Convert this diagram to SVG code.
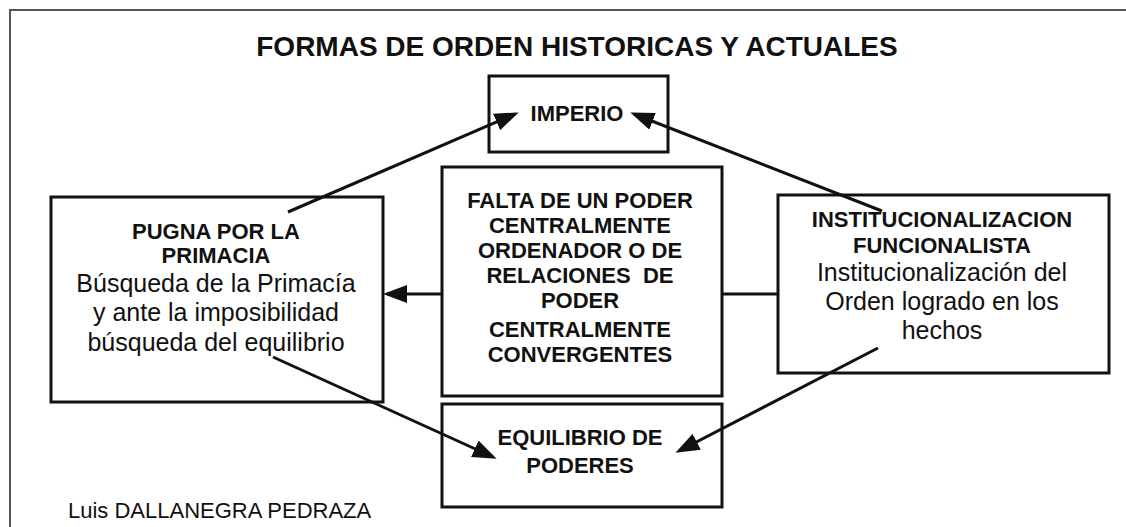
<svg xmlns="http://www.w3.org/2000/svg" width="1126" height="527" viewBox="0 0 1126 527">
<style>
.box{fill:#fff;stroke:#111;stroke-width:3}
.b{font-family:"Liberation Sans",Arial,sans-serif;font-weight:bold;font-size:22px;fill:#111;text-anchor:middle}
.r{font-family:"Liberation Sans",Arial,sans-serif;font-size:25px;fill:#111;text-anchor:middle}
.con{stroke:#111;stroke-width:3;fill:none}
.arr{marker-end:url(#ah)}
.sh{stroke:#9a9a9a;stroke-width:6;fill:none;filter:url(#blur);opacity:0.7}
</style>
<defs>
<marker id="ah" markerUnits="userSpaceOnUse" markerWidth="24" markerHeight="18" viewBox="0 0 24 18" refX="20" refY="9" orient="auto">
<path d="M0,0 L24,9 L0,18 Z" fill="#111"/>
</marker>
<filter id="blur" x="-20%" y="-200%" width="140%" height="500%"><feGaussianBlur stdDeviation="2.5"/></filter>
</defs>
<rect width="1126" height="527" fill="#fff"/>
<path d="M10,527 V10 H1130" fill="none" stroke="#555" stroke-width="2"/>
<text x="577" y="56" font-family="Liberation Sans, Arial, sans-serif" font-weight="bold" font-size="28" text-anchor="middle" fill="#111">FORMAS DE ORDEN HISTORICAS Y ACTUALES</text>
<g id="shadows">
<line class="sh" x1="392" y1="302" x2="444" y2="302"/>
<line class="sh" x1="722" y1="302" x2="782" y2="302"/>
</g>
<g id="imperio">
<rect class="box" x="489" y="76" width="179" height="76"/>
<text class="b" x="577" y="121">IMPERIO</text>
</g>
<g id="falta">
<rect class="box" x="442" y="167" width="280" height="229"/>
<text class="b" x="580" y="208">FALTA DE UN PODER</text>
<text class="b" x="580" y="233">CENTRALMENTE</text>
<text class="b" x="580" y="258">ORDENADOR O DE</text>
<text class="b" x="580" y="283" style="white-space:pre">RELACIONES  DE</text>
<text class="b" x="580" y="308">PODER</text>
<text class="b" x="580" y="337">CENTRALMENTE</text>
<text class="b" x="580" y="362">CONVERGENTES</text>
</g>
<g id="pugna">
<rect class="box" x="51" y="197" width="332" height="205"/>
<text class="b" x="216" y="239">PUGNA POR LA</text>
<text class="b" x="216" y="263">PRIMACIA</text>
<text class="r" x="216" y="292">Búsqueda de la Primacía</text>
<text class="r" x="216" y="321">y ante la imposibilidad</text>
<text class="r" x="216" y="351">búsqueda del equilibrio</text>
</g>
<g id="institucionalizacion">
<rect class="box" x="778" y="195" width="331" height="178"/>
<text class="b" x="942" y="227">INSTITUCIONALIZACION</text>
<text class="b" x="942" y="253">FUNCIONALISTA</text>
<text class="r" x="942" y="281">Institucionalización del</text>
<text class="r" x="942" y="310">Orden logrado en los</text>
<text class="r" x="942" y="339">hechos</text>
</g>
<g id="equilibrio">
<rect class="box" x="442" y="404" width="280" height="103"/>
<text class="b" x="580" y="445">EQUILIBRIO DE</text>
<text class="b" x="580" y="473">PODERES</text>
</g>
<g id="connectors">
<line class="con arr" x1="288" y1="212" x2="515" y2="114"/>
<line class="con arr" x1="882" y1="211" x2="634" y2="114"/>
<line class="con arr" x1="273" y1="357" x2="493" y2="457"/>
<line class="con arr" x1="878" y1="348" x2="679" y2="451"/>
<line class="con arr" x1="442" y1="294" x2="387" y2="294"/>
<line class="con" x1="722" y1="294" x2="778" y2="294"/>
</g>
<text x="68" y="518" font-family="Liberation Sans, Arial, sans-serif" font-size="22" fill="#111">Luis DALLANEGRA PEDRAZA</text>
</svg>
